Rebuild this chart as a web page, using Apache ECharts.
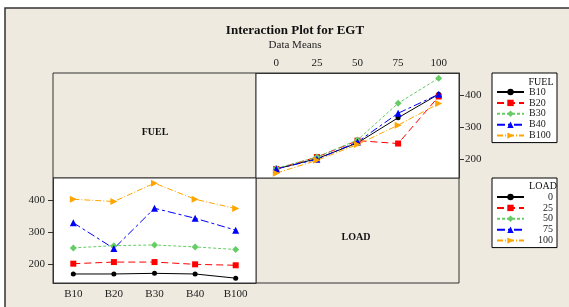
<!DOCTYPE html>
<html lang="en">
<head>
    <meta charset="UTF-8">
    <title>Interaction Plot for EGT</title>
    <script src="https://cdn.jsdelivr.net/npm/echarts@6/dist/echarts.min.js"></script>
    <style>
        html, body { margin: 0; padding: 0; background: #ffffff; }
        #chart { width: 569px; height: 307px; }
    </style>
</head>
<body>
<div id="chart"></div>
<script>
    // 数据：每种燃料在各负荷下的 EGT 均值
    var loads = ['0', '25', '50', '75', '100'];
    var fuels = ['B10', 'B20', 'B30', 'B40', 'B100'];
    var b10 = [170, 202, 251, 329, 402];
    var b20 = [170, 207, 258, 249, 395];
    var b30 = [172, 207, 260, 374, 452];
    var b40 = [170, 200, 254, 343, 402];
    var b100 = [157, 197, 246, 306, 373];
    var fuelMeans = [b10, b20, b30, b40, b100];
    var yTicks = [200, 300, 400];

    // 样式
    var colors = ['#000000', '#ff0000', '#66cc66', '#0000ff', '#ffa500'];
    var symbols = ['circle', 'rect', 'diamond', 'triangle', 'path://M0,0 L10,5 L0,10 Z'];
    var sizes = [5, 6, 7, 7, 7];
    var dashes = ['solid', [7, 4], [3, 2], [8, 3, 3, 3], [6, 2, 1, 2]];
    var serif = '"Liberation Serif", "DejaVu Serif", serif';
    var beige = '#eeeae0';

    var series = [];
    fuels.forEach(function (f, i) {
        series.push({
            name: f, type: 'line', xAxisIndex: 0, yAxisIndex: 0,
            data: fuelMeans[i],
            symbol: symbols[i], symbolSize: sizes[i],
            itemStyle: { color: colors[i] },
            lineStyle: { color: colors[i], width: 1, type: dashes[i] },
            animation: false
        });
    });
    loads.forEach(function (l, j) {
        series.push({
            name: l, type: 'line', xAxisIndex: 1, yAxisIndex: 1,
            data: fuelMeans.map(function (row) { return row[j]; }),
            symbol: symbols[j], symbolSize: sizes[j],
            itemStyle: { color: colors[j] },
            lineStyle: { color: colors[j], width: 1, type: dashes[j] },
            animation: false
        });
    });

    function catAxis(grid, pos, data, margin) {
        return {
            gridIndex: grid, type: 'category', position: pos, data: data,
            boundaryGap: true,
            axisLine: { show: true, lineStyle: { color: '#333' } },
            axisTick: { alignWithLabel: true, length: 4, lineStyle: { color: '#333' } },
            axisLabel: { color: '#222', fontFamily: serif, fontSize: 11, margin: margin },
            splitLine: { show: false }
        };
    }
    function valAxis(grid, pos, margin) {
        return {
            gridIndex: grid, type: 'value', position: pos, min: 142, max: 468,
            axisLine: { show: true, lineStyle: { color: '#333' } },
            axisTick: { show: true, length: 5, customValues: yTicks, lineStyle: { color: '#333' } },
            axisLabel: { color: '#222', fontFamily: serif, fontSize: 11, margin: margin, customValues: yTicks },
            splitLine: { show: false }
        };
    }
    function legendBox(top, data, align) {
        return {
            orient: 'vertical', left: 492, top: top, data: data,
            backgroundColor: '#fff', borderColor: '#000', borderWidth: 1,
            padding: [14, 4, 2, 4], itemWidth: 27, itemHeight: 8, itemGap: 0.9,
            formatter: '{t|{name}}',
            textStyle: {
                fontFamily: serif, fontSize: 10, color: '#222',
                rich: { t: { width: 24, align: align, fontFamily: serif, fontSize: 10, lineHeight: 10, color: '#222' } }
            },
            selectedMode: false
        };
    }
    function label(text, x, y, bold) {
        return {
            text: text, left: x, top: y, textAlign: 'center', padding: 0,
            textStyle: { fontFamily: serif, fontSize: 10, fontWeight: bold ? 'bold' : 'normal', color: '#111' }
        };
    }

    var myChart = echarts.init(document.getElementById('chart'), null, { renderer: 'canvas' });
    myChart.setOption({
        backgroundColor: '#ffffff',
        animation: false,
        title: [
            {
                text: 'Interaction Plot for EGT',
                subtext: 'Data Means',
                left: 290, top: 19, textAlign: 'center', itemGap: 3,
                textStyle: { fontFamily: serif, fontSize: 13, fontWeight: 'bold', color: '#111' },
                subtextStyle: { fontFamily: serif, fontSize: 11, color: '#222' }
            },
            label('FUEL', 155, 127, true),
            label('LOAD', 356, 232, true),
            label('FUEL', 541, 77, false),
            label('LOAD', 543, 181, false)
        ],
        grid: [
            { left: 256, top: 73, width: 203, height: 105, show: true, backgroundColor: '#fff', borderColor: '#333', borderWidth: 1 },
            { left: 53, top: 178, width: 203, height: 105, show: true, backgroundColor: '#fff', borderColor: '#333', borderWidth: 1 }
        ],
        xAxis: [catAxis(0, 'top', loads, 4), catAxis(1, 'bottom', fuels, 6)],
        yAxis: [valAxis(0, 'right', 6), valAxis(1, 'left', 8)],
        legend: [legendBox(73, fuels, 'left'), legendBox(178, loads, 'right')],
        graphic: {
            elements: [
                { type: 'rect', z: -100, shape: { x: 5, y: 8, width: 640, height: 360 },
                  style: { fill: beige, stroke: '#333', lineWidth: 1.5 } },
                { type: 'rect', z: -90, shape: { x: 53, y: 73, width: 203, height: 105 },
                  style: { fill: beige, stroke: '#333', lineWidth: 1 } },
                { type: 'rect', z: -90, shape: { x: 256, y: 178, width: 203, height: 105 },
                  style: { fill: beige, stroke: '#333', lineWidth: 1 } }
            ]
        },
        series: series
    });
</script>
</body>
</html>
